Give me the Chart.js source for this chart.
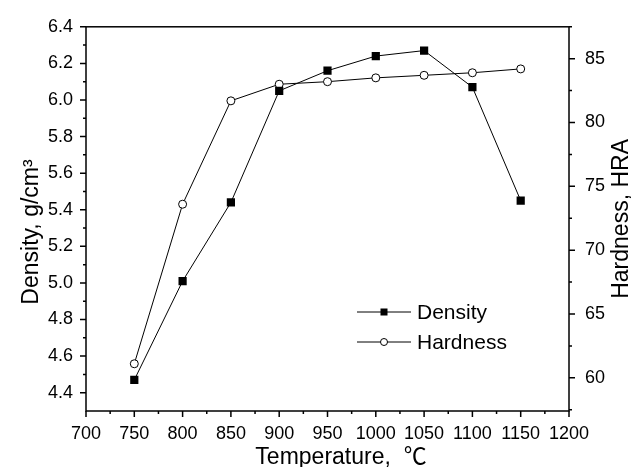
<!DOCTYPE html>
<html>
<head>
<meta charset="utf-8">
<script src="https://cdn.jsdelivr.net/npm/chart.js"></script>
<style>
  html, body { margin: 0; padding: 0; background: #fff; }
</style>
</head>
<body>
<canvas id="chart" width="633" height="467"></canvas>
<script>
// donnees
var temperature = [750, 800, 850, 900, 950, 1000, 1050, 1100, 1150];
var density = [4.47, 5.01, 5.44, 6.05, 6.16, 6.24, 6.27, 6.07, 5.45];
var hardness = [61.1, 73.6, 81.7, 83.0, 83.2, 83.5, 83.7, 83.9, 84.2];

var tempTicks = [700, 750, 800, 850, 900, 950, 1000, 1050, 1100, 1150, 1200];
var densityTicks = [4.4, 4.6, 4.8, 5.0, 5.2, 5.4, 5.6, 5.8, 6.0, 6.2, 6.4];
var hardnessTicks = [60, 65, 70, 75, 80, 85];

var FONT = "'Liberation Sans', Arial, 'Noto Sans CJK SC', sans-serif";

function points(ys) {
  return temperature.map(function (t, i) { return { x: t, y: ys[i] }; });
}
function setTicks(list) {
  return function (scale) {
    scale.ticks = list.map(function (v) { return { value: v }; });
  };
}

// cadre + graduations majeures / mineures vers l'exterieur
var framePlugin = {
  id: 'frame',
  afterDraw: function (chart) {
    var ctx = chart.ctx, a = chart.chartArea;
    var sx = chart.scales.x, sy = chart.scales.y, sy2 = chart.scales.y2;
    var sc = chart.options.scales;
    ctx.save();
    ctx.strokeStyle = '#000';
    ctx.lineWidth = 1.5;
    ctx.strokeRect(a.left, a.top, a.right - a.left, a.bottom - a.top);

    ctx.beginPath();
    for (var i = 0; i <= 20; i++) {
      var px = sx.getPixelForValue(700 + 25 * i);
      var len = i % 2 == 0 ? 6 : 3;
      ctx.moveTo(px, a.bottom); ctx.lineTo(px, a.bottom + len);
    }
    for (var j = 1; j <= 21; j++) {
      var v = 4.3 + 0.1 * j;
      var py = sy.getPixelForValue(v);
      var l2 = (j % 2 == 1) ? 6 : 3;
      ctx.moveTo(a.left, py); ctx.lineTo(a.left - l2, py);
    }
    for (var k = 0; k <= 12; k++) {
      var v2 = 57.5 + 2.5 * k;
      var py2 = sy2.getPixelForValue(v2);
      var l3 = (k % 2 == 1) ? 6 : 3;
      ctx.moveTo(a.right, py2); ctx.lineTo(a.right + l3, py2);
    }
    ctx.stroke();

    // titres des axes
    ctx.fillStyle = '#000';
    ctx.font = '23px ' + FONT;
    ctx.textAlign = 'center';
    ctx.textBaseline = 'middle';
    ctx.fillText(sc.x.title.text, 341, 458);

    ctx.save();
    ctx.translate(32, 232);
    ctx.rotate(-Math.PI / 2);
    ctx.fillText(sc.y.title.text, 0, 0);
    ctx.restore();

    ctx.translate(622, (a.top + a.bottom) / 2);
    ctx.rotate(-Math.PI / 2);
    ctx.fillText(sc.y2.title.text, 0, 0);
    ctx.restore();

    // legende
    ctx.save();
    var rows = [312, 342];
    chart.data.datasets.forEach(function (ds, n) {
      var y = rows[n];
      ctx.strokeStyle = '#000';
      ctx.lineWidth = 1;
      ctx.beginPath();
      ctx.moveTo(357, y); ctx.lineTo(411, y);
      ctx.stroke();
      if (ds.pointStyle == 'rect') {
        ctx.fillStyle = '#000';
        ctx.fillRect(380.5, y - 3.5, 7, 7);
      } else {
        ctx.fillStyle = '#fff';
        ctx.beginPath();
        ctx.arc(384, y, 3.5, 0, Math.PI * 2);
        ctx.fill();
        ctx.stroke();
      }
      ctx.fillStyle = '#000';
      ctx.font = '21px ' + FONT;
      ctx.textAlign = 'left';
      ctx.textBaseline = 'middle';
      ctx.fillText(ds.label, 417, y + 1);
    });
    ctx.restore();
  }
};

var ctx = document.getElementById('chart').getContext('2d');
var myChart = new Chart(ctx, {
  type: 'line',
  data: {
    datasets: [{
      label: 'Density',
      data: points(density),
      yAxisID: 'y',
      borderColor: '#000',
      borderWidth: 1,
      pointStyle: 'rect',
      pointRadius: 5.8,
      pointBackgroundColor: '#000',
      pointBorderColor: '#000',
      pointBorderWidth: 0,
      tension: 0
    }, {
      label: 'Hardness',
      data: points(hardness),
      yAxisID: 'y2',
      borderColor: '#000',
      borderWidth: 1,
      pointStyle: 'circle',
      pointRadius: 4,
      pointBackgroundColor: '#fff',
      pointBorderColor: '#000',
      pointBorderWidth: 1,
      tension: 0
    }]
  },
  options: {
    responsive: false,
    animation: false,
    devicePixelRatio: 1,
    layout: { padding: { top: 22, left: 0, right: 0, bottom: 0 } },
    plugins: {
      legend: { display: false },
      tooltip: { enabled: false }
    },
    scales: {
      x: {
        type: 'linear',
        min: 700,
        max: 1200,
        afterBuildTicks: setTicks(tempTicks),
        afterFit: function (s) { s.height = 56; },
        grid: { display: false, drawTicks: false },
        border: { display: false },
        ticks: {
          color: '#000', padding: 12, font: { size: 18, family: FONT },
          maxRotation: 0, minRotation: 0, autoSkip: false,
          callback: function (v) { return String(v); }
        },
        title: { display: false, text: 'Temperature,  \u2103' }
      },
      y: {
        position: 'left',
        min: 4.3,
        max: 6.4,
        afterBuildTicks: setTicks(densityTicks),
        afterFit: function (s) { s.width = 86; },
        grid: { display: false, drawTicks: false },
        border: { display: false },
        ticks: {
          color: '#000', padding: 13, font: { size: 18, family: FONT },
          callback: function (v) { return v.toFixed(1); }
        },
        title: { display: false, text: 'Density, g/cm\u00b3' }
      },
      y2: {
        position: 'right',
        min: 57.4,
        max: 87.5,
        afterBuildTicks: setTicks(hardnessTicks),
        afterFit: function (s) { s.width = 64; },
        grid: { display: false, drawTicks: false },
        border: { display: false },
        ticks: { color: '#000', padding: 16, font: { size: 18, family: FONT } },
        title: { display: false, text: 'Hardness, HRA' }
      }
    }
  },
  plugins: [framePlugin]
});
</script>
</body>
</html>
